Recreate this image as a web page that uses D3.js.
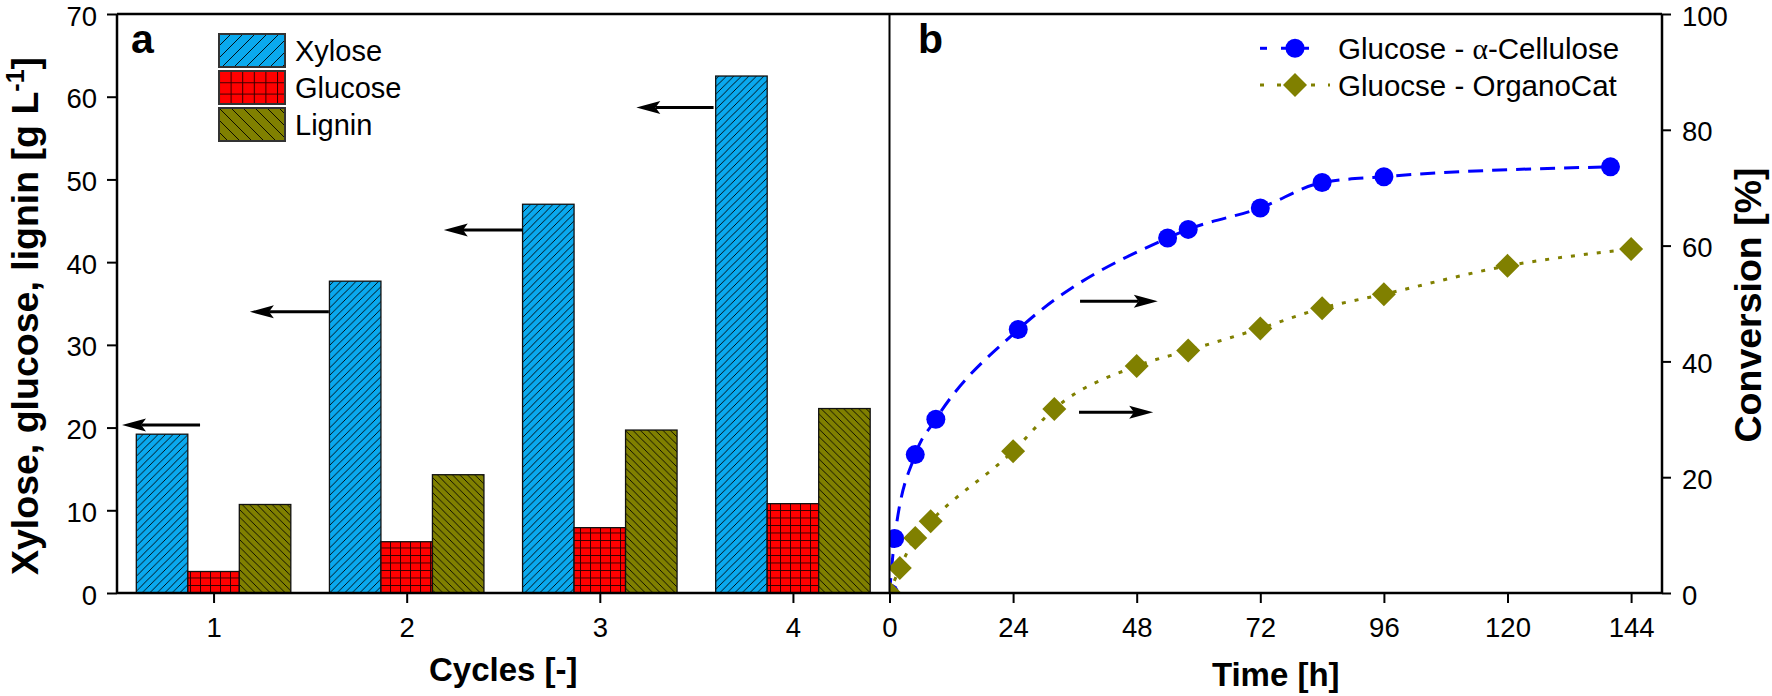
<!DOCTYPE html>
<html><head><meta charset="utf-8">
<script src="https://cdn.jsdelivr.net/npm/d3@7"></script>
<style>
html,body{margin:0;padding:0;background:#fff;}
svg{display:block;}
</style></head><body>
<svg id="chart" width="1772" height="696"></svg>
<script>
// ---------- data ----------
const cycles = [1, 2, 3, 4];
const barSeries = ["Xylose", "Glucose", "Lignin"];
const xylose = [19.2, 37.7, 47.0, 62.5];
const glucose = [2.6, 6.2, 7.9, 10.8];
const lignin = [10.7, 14.3, 19.7, 22.3];
const leftTicks = [0, 10, 20, 30, 40, 50, 60, 70];
const cycleTicks = [1, 2, 3, 4];

const lineSeries = ["Glucose - α-Cellulose", "Gluocse - OrganoCat"];
const timeCellulose = [0, 1, 5, 9, 25, 54, 58, 72, 84, 96, 140];
const convCellulose = [0, 9.4, 23.9, 30.0, 45.5, 61.3, 62.8, 66.5, 70.9, 71.9, 73.6];
const timeOrgano = [0, 2, 5, 8, 24, 32, 48, 58, 72, 84, 96, 120, 144];
const convOrgano = [0, 4.3, 9.5, 12.4, 24.5, 31.8, 39.2, 41.9, 45.7, 49.2, 51.6, 56.5, 59.4];
const timeTicks = [0, 24, 48, 72, 96, 120, 144];
const rightTicks = [0, 20, 40, 60, 80, 100];

// annotation arrows in data units: [tail x, tip x, y]
const arrowsA = [[0.93, 0.526, 20.3], [1.597, 1.188, 34.0], [2.601, 2.192, 43.9], [3.589, 3.189, 58.7]];
const arrowsB = [[37.0, 52.1, 50.4], [36.8, 51.2, 31.2]];

// ---------- layout ----------
const L = 117, R = 1662, T = 14, B = 593, M = 889.5;
const FONT = "'Liberation Sans', Arial, Helvetica, sans-serif";
const svg = d3.select("#chart");

const xA = d3.scaleLinear().domain([0.5, 4.5]).range([L, M]);
const yA = d3.scaleLinear().domain([0, 70]).range([B, T]);
const xB = d3.scaleLinear().domain([0, 150]).range([M, R]);
const yB = d3.scaleLinear().domain([0, 100]).range([B, T]);
const inner = d3.scaleBand().domain(barSeries).range([-0.4, 0.4]);

const fills = { Xylose: "#0aa9ee", Glucose: "#ff0000", Lignin: "#808000" };

// ---------- patterns ----------
const defs = svg.append("defs");
function makePatterns(suffix, sd, sg, hg) {
  let p = defs.append("pattern").attr("id", "pX" + suffix).attr("patternUnits", "userSpaceOnUse")
    .attr("width", sd).attr("height", sd);
  p.append("rect").attr("width", sd).attr("height", sd).attr("fill", fills.Xylose);
  p.append("path").attr("d", `M0,${sd} L${sd},0 M${-sd/4},${sd/4} L${sd/4},${-sd/4} M${sd*3/4},${sd*5/4} L${sd*5/4},${sd*3/4}`)
    .attr("stroke", "#000").attr("stroke-width", 0.9);
  p = defs.append("pattern").attr("id", "pG" + suffix).attr("patternUnits", "userSpaceOnUse")
    .attr("width", sg).attr("height", hg);
  p.append("rect").attr("width", sg).attr("height", hg).attr("fill", fills.Glucose);
  p.append("path").attr("d", `M0,0.5 H${sg} M0.5,0 V${hg}`).attr("stroke", "#300").attr("stroke-width", 1);
  p = defs.append("pattern").attr("id", "pL" + suffix).attr("patternUnits", "userSpaceOnUse")
    .attr("width", sd).attr("height", sd);
  p.append("rect").attr("width", sd).attr("height", sd).attr("fill", fills.Lignin);
  p.append("path").attr("d", `M0,0 L${sd},${sd} M${-sd/4},${sd*3/4} L${sd/4},${sd*5/4} M${sd*3/4},${-sd/4} L${sd*5/4},${sd/4}`)
    .attr("stroke", "#000").attr("stroke-width", 0.9);
}
makePatterns("", 7.5, 10, 7.5);
makePatterns("leg", 12, 11.6, 11.3);
const patId = { Xylose: "pX", Glucose: "pG", Lignin: "pL" };

defs.append("clipPath").attr("id", "clipB").append("rect")
  .attr("x", M).attr("y", 0).attr("width", R - M).attr("height", B);

// ---------- panel a bars ----------
const seriesVals = { Xylose: xylose, Glucose: glucose, Lignin: lignin };
const barData = [];
cycles.forEach((c, j) => barSeries.forEach(s => barData.push({ c, s, v: seriesVals[s][j] })));
svg.append("g").selectAll("rect").data(barData).join("rect")
  .attr("x", d => xA(d.c + inner(d.s)))
  .attr("width", d => xA(d.c + inner(d.s) + inner.bandwidth()) - xA(d.c + inner(d.s)))
  .attr("y", d => yA(d.v))
  .attr("height", d => yA(0) - yA(d.v))
  .attr("fill", d => `url(#${patId[d.s]})`)
  .attr("stroke", "#111").attr("stroke-width", 1.3);

// ---------- panel b lines ----------
const gB = svg.append("g").attr("clip-path", "url(#clipB)");
const lineGen = d3.line().x(d => xB(d[0])).y(d => yB(d[1])).curve(d3.curveMonotoneX);
const celluloseData = timeCellulose.map((t, i) => [t, convCellulose[i]]);
const organoData = timeOrgano.map((t, i) => [t, convOrgano[i]]);
gB.append("path").attr("d", lineGen(celluloseData)).attr("fill", "none")
  .attr("stroke", "#0000ff").attr("stroke-width", 3).attr("stroke-dasharray", "15,9");
gB.append("path").attr("d", lineGen(organoData)).attr("fill", "none")
  .attr("stroke", "#808000").attr("stroke-width", 3).attr("stroke-dasharray", "4,9");
const diamond = "M0,-12 L12,0 L0,12 L-12,0Z";
gB.append("g").selectAll("circle").data(celluloseData).join("circle")
  .attr("cx", d => xB(d[0])).attr("cy", d => yB(d[1])).attr("r", 9.5).attr("fill", "#0000ff");
gB.append("g").selectAll("path").data(organoData).join("path")
  .attr("transform", d => `translate(${xB(d[0])},${yB(d[1])})`).attr("d", diamond).attr("fill", "#808000");

// ---------- arrows ----------
function arrow(x1, x2, y) {
  const dir = Math.sign(x2 - x1), hl = 24, hw = 6.5;
  const g = svg.append("g");
  g.append("line").attr("x1", x1).attr("x2", x2 - dir * hl * 0.8).attr("y1", y).attr("y2", y)
    .attr("stroke", "#000").attr("stroke-width", 3);
  g.append("path").attr("d", `M${x2},${y} L${x2 - dir * hl},${y - hw} L${x2 - dir * hl * 0.8},${y} L${x2 - dir * hl},${y + hw}Z`)
    .attr("fill", "#000");
}
arrowsA.forEach(a => arrow(xA(a[0]), xA(a[1]), yA(a[2])));
arrowsB.forEach(a => arrow(xB(a[0]), xB(a[1]), yB(a[2])));

// ---------- axes ----------
function styleAxis(g) {
  g.select(".domain").remove();
  g.attr("font-family", FONT).attr("font-size", 27.5);
  g.selectAll(".tick line").attr("stroke", "#000").attr("stroke-width", 2);
  g.selectAll(".tick text").attr("fill", "#000");
}
const fmt = d3.format("d");
svg.append("g").attr("transform", `translate(${L},0)`)
  .call(d3.axisLeft(yA).tickValues(leftTicks).tickFormat(fmt).tickSize(10).tickPadding(10)).call(styleAxis)
  .selectAll(".tick text").attr("dy", "0.4em");
svg.append("g").attr("transform", `translate(0,${B})`)
  .call(d3.axisBottom(xA).tickValues(cycleTicks).tickFormat(fmt).tickSize(10).tickPadding(14)).call(styleAxis);
svg.append("g").attr("transform", `translate(0,${B})`)
  .call(d3.axisBottom(xB).tickValues(timeTicks).tickFormat(fmt).tickSize(10).tickPadding(14)).call(styleAxis);
svg.append("g").attr("transform", `translate(${R},0)`)
  .call(d3.axisRight(yB).tickValues(rightTicks).tickFormat(fmt).tickSize(9).tickPadding(11)).call(styleAxis)
  .selectAll(".tick text").attr("dy", "0.4em");

// frame
const frame = svg.append("g").attr("stroke", "#000").attr("stroke-width", 2.5).attr("fill", "none");
frame.append("path").attr("d", `M${L},${T} H${R} M${L},${B} H${R} M${L},${T} V${B} M${R},${T} V${B}`);
frame.append("line").attr("x1", M).attr("x2", M).attr("y1", T).attr("y2", B).attr("stroke-width", 2);

// ---------- titles ----------
const yt = svg.append("text").attr("transform", `translate(38,316) rotate(-90)`)
  .attr("text-anchor", "middle").attr("font-family", FONT).attr("font-weight", "bold").attr("font-size", 37.5);
yt.append("tspan").text("Xylose, glucose, lignin [g L");
yt.append("tspan").attr("font-size", 25).attr("dy", -14).text("-1");
yt.append("tspan").attr("dy", 14).text("]");

svg.append("text").attr("transform", `translate(1761,305) rotate(-90)`)
  .attr("text-anchor", "middle").attr("font-family", FONT).attr("font-weight", "bold").attr("font-size", 37.5)
  .text("Conversion [%]");
svg.append("text").attr("x", (L + M) / 2).attr("y", 681).attr("text-anchor", "middle")
  .attr("font-family", FONT).attr("font-weight", "bold").attr("font-size", 33).text("Cycles [-]");
svg.append("text").attr("x", (M + R) / 2).attr("y", 686).attr("text-anchor", "middle")
  .attr("font-family", FONT).attr("font-weight", "bold").attr("font-size", 33).text("Time [h]");

svg.append("text").attr("x", 131).attr("y", 53).attr("font-family", FONT).attr("font-weight", "bold")
  .attr("font-size", 41).text("a");
svg.append("text").attr("x", 918).attr("y", 53).attr("font-family", FONT).attr("font-weight", "bold")
  .attr("font-size", 41).text("b");

// ---------- legend a ----------
const legA = svg.append("g").selectAll("g").data(barSeries).join("g")
  .attr("transform", (d, i) => `translate(219,${34 + i * 37})`);
legA.append("rect").attr("width", 66).attr("height", 33).attr("fill", d => `url(#${patId[d]}leg)`)
  .attr("stroke", "#333").attr("stroke-width", 2);
legA.append("text").attr("x", 76).attr("y", 16.5).attr("dy", "0.36em")
  .attr("font-family", FONT).attr("font-size", 29).attr("fill", "#000").text(d => d);

// ---------- legend b ----------
const legB = svg.append("g");
const rowsY = [48.3, 85];
legB.append("line").attr("x1", 1260).attr("x2", 1322).attr("y1", rowsY[0]).attr("y2", rowsY[0])
  .attr("stroke", "#0000ff").attr("stroke-width", 3).attr("stroke-dasharray", "7,14");
legB.append("circle").attr("cx", 1295).attr("cy", rowsY[0]).attr("r", 9.5).attr("fill", "#0000ff");
legB.append("line").attr("x1", 1260).attr("x2", 1330).attr("y1", rowsY[1]).attr("y2", rowsY[1])
  .attr("stroke", "#808000").attr("stroke-width", 3).attr("stroke-dasharray", "4,13");
legB.append("path").attr("transform", `translate(1295,${rowsY[1]})`).attr("d", diamond).attr("fill", "#808000");
const t1 = legB.append("text").attr("x", 1338).attr("y", rowsY[0]).attr("dy", "0.36em")
  .attr("font-family", FONT).attr("font-size", 29.5);
t1.append("tspan").text("Glucose - ");
t1.append("tspan").attr("font-family", "'Liberation Serif', 'DejaVu Serif', serif").text("α");
t1.append("tspan").text("-Cellulose");
legB.append("text").attr("x", 1338).attr("y", rowsY[1]).attr("dy", "0.36em")
  .attr("font-family", FONT).attr("font-size", 29.5).text(lineSeries[1]);
</script>
</body></html>
